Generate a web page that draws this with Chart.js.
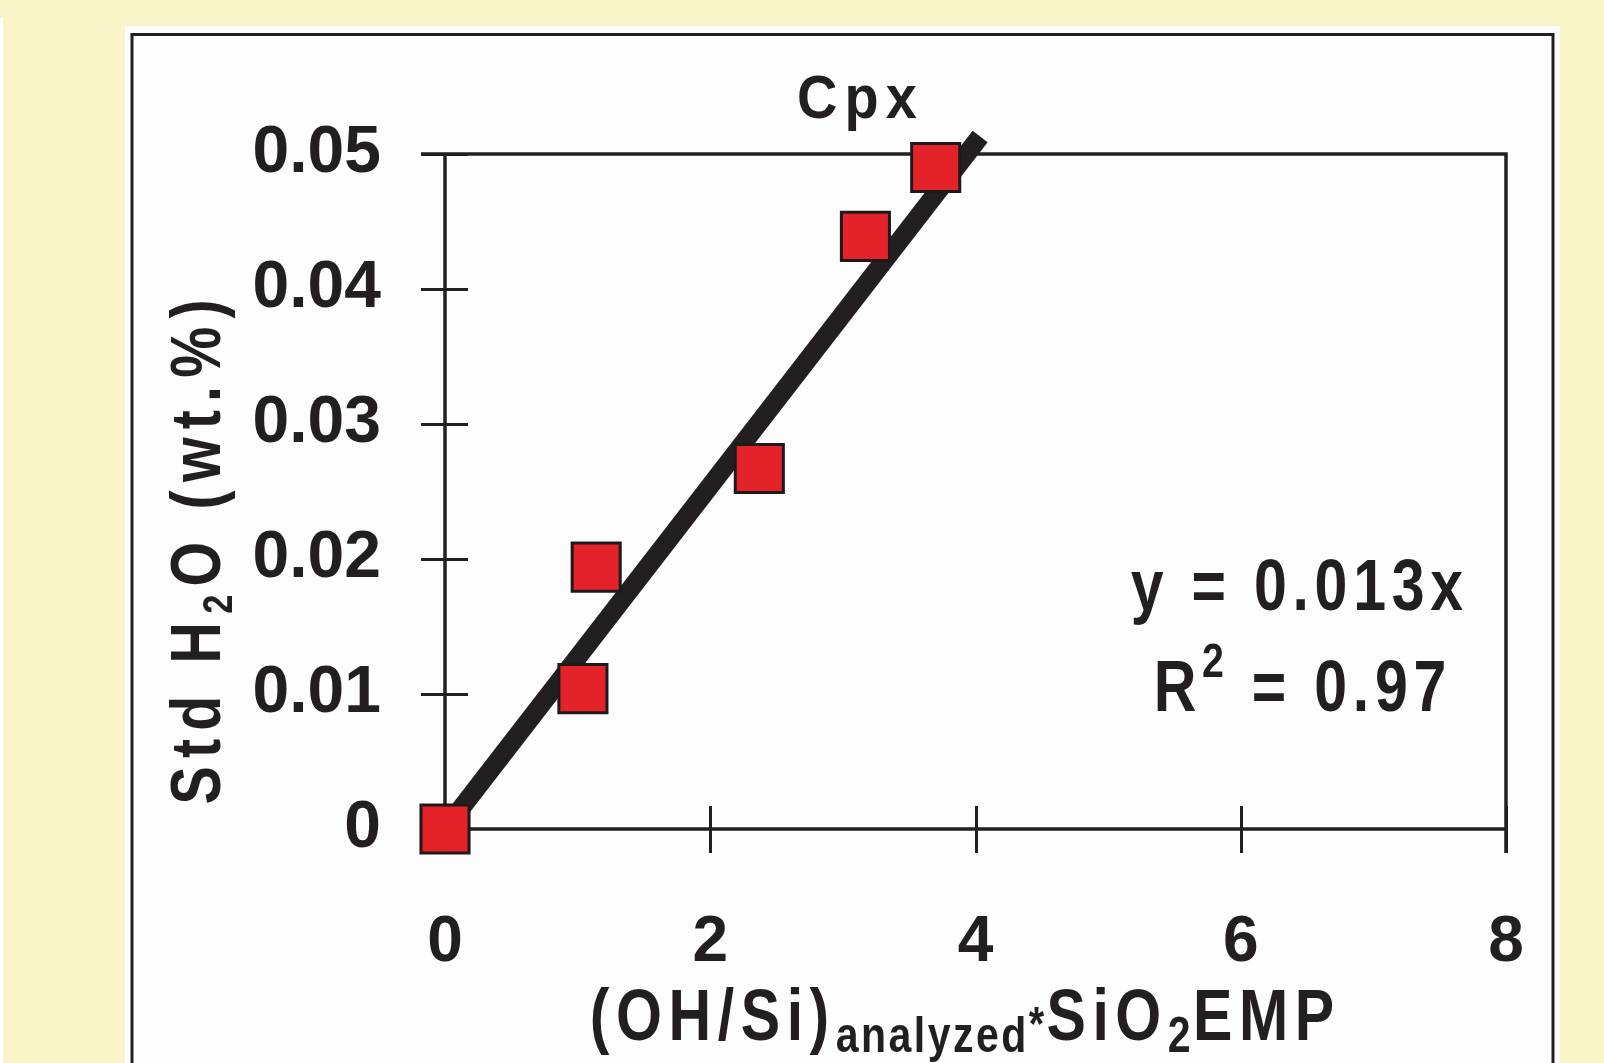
<!DOCTYPE html>
<html><head><meta charset="utf-8">
<script src="https://cdn.jsdelivr.net/npm/chart.js@4.4.1/dist/chart.umd.min.js"></script>
<style>html,body{margin:0;padding:0;background:#F9F3C8;overflow:hidden}#wrap{width:1604px;height:1063px;position:relative}</style>
</head><body><div id="wrap"><canvas id="c" width="1604" height="1063"></canvas></div>
<script>
// ---- data ----
const xValues = [0, 1.04, 1.14, 2.37, 3.17, 3.70];
const yValues = [0, 0.0104, 0.0194, 0.0267, 0.0439, 0.0490];
const trendX = [0, 4.035];
const trendY = [0, 0.0513];
const xTickLabels = ['0', '2', '4', '6', '8'];
const yTickLabels = ['0', '0.01', '0.02', '0.03', '0.04', '0.05'];
const chartTitle = 'Cpx';
const yTitleRuns = [['Std H', 'main'], ['2', 'sub'], ['O (wt.%)', 'main']];
const xTitleRuns = [['(OH/Si)', 'main'], ['analyzed', 'sub'], ['*', 'sup'], ['SiO', 'main'], ['2', 'sub'], ['EMP', 'main']];
const eqLine1 = [['y = 0.013x', 'main']];
const eqLine2 = [['R', 'main'], ['2', 'sup'], [' = 0.97', 'main']];

const INK = '#231f20';
const FAMILY = '"Liberation Sans", Arial, sans-serif';

function drawRuns(ctx, runs, cx, baseline, spec) {
  ctx.save();
  ctx.textBaseline = 'alphabetic';
  ctx.textAlign = 'left';
  let total = 0;
  const sp = k => (spec[k].sp !== undefined ? spec[k].sp : spec.spacing);
  const widths = runs.map(([t, k]) => {
    ctx.letterSpacing = sp(k) + 'px';
    ctx.font = 'bold ' + spec[k].size + 'px ' + FAMILY;
    const w = ctx.measureText(t).width;
    total += w;
    return w;
  });
  total -= sp(runs[runs.length - 1][1]);
  ctx.translate(cx, baseline);
  ctx.scale(spec.sx, 1);
  let x = -total / 2;
  runs.forEach(([t, k], i) => {
    ctx.letterSpacing = sp(k) + 'px';
    ctx.font = 'bold ' + spec[k].size + 'px ' + FAMILY;
    ctx.fillText(t, x, spec[k].dy);
    x += widths[i];
  });
  ctx.restore();
}

const decor = {
  id: 'decor',
  beforeDraw(chart) {
    const ctx = chart.ctx;
    ctx.save();
    ctx.fillStyle = '#F9F3C8';
    ctx.fillRect(0, 0, 1604, 1063);
    ctx.fillStyle = '#FFFFFF';
    ctx.fillRect(0, 18, 3, 1063);
    ctx.fillStyle = '#FDFDFD';
    ctx.fillRect(125, 26, 1435, 1040);
    ctx.strokeStyle = INK;
    ctx.lineWidth = 3;
    ctx.beginPath();
    ctx.moveTo(132, 1070); ctx.lineTo(132, 34.5); ctx.lineTo(1553, 34.5); ctx.lineTo(1553, 1070);
    ctx.stroke();
    ctx.restore();
  },
  beforeDatasetsDraw(chart) {
    const {ctx, chartArea: {left, right, top, bottom}, scales: {x, y}} = chart;
    ctx.save();
    ctx.strokeStyle = INK;
    ctx.lineCap = 'butt';
    ctx.lineWidth = 3;
    x.ticks.forEach(t => {
      const px = Math.round(x.getPixelForValue(t.value)) + 0.5;
      ctx.beginPath(); ctx.moveTo(px, bottom - 23); ctx.lineTo(px, bottom + 24); ctx.stroke();
    });
    y.ticks.forEach(t => {
      const py = Math.round(y.getPixelForValue(t.value)) + 0.5;
      ctx.beginPath(); ctx.moveTo(left - 24, py); ctx.lineTo(left + 23, py); ctx.stroke();
    });
    ctx.lineWidth = 3.5;
    ctx.beginPath();
    ctx.moveTo(left - 24, top); ctx.lineTo(right, top); ctx.lineTo(right, bottom + 24);
    ctx.stroke();
    ctx.beginPath();
    ctx.moveTo(left, top); ctx.lineTo(left, bottom); ctx.lineTo(right, bottom);
    ctx.stroke();
    ctx.restore();
  },
  afterDraw(chart) {
    const ctx = chart.ctx;
    ctx.save();
    ctx.fillStyle = INK;
    // title
    drawRuns(ctx, [[chartTitle, 'main']], 857, 118, {sx: 0.9, spacing: 8, main: {size: 62, dy: 0}});
    // equation
    const eqSpec = {sx: 0.82, spacing: 7, main: {size: 72, dy: 0}, sup: {size: 48, dy: -34}};
    drawRuns(ctx, eqLine1, 1297, 610, eqSpec);
    drawRuns(ctx, eqLine2, 1300, 711, eqSpec);
    // x title
    drawRuns(ctx, xTitleRuns, 962, 1040, {sx: 0.82, spacing: 8,
      main: {size: 72, dy: 0}, sub: {size: 50, dy: 12, sp: 3}, sup: {size: 48, dy: 0, sp: 3}});
    // y title
    ctx.translate(220, 552);
    ctx.rotate(-Math.PI / 2);
    drawRuns(ctx, yTitleRuns, 0, 0, {sx: 0.82, spacing: 10,
      main: {size: 70, dy: 0}, sub: {size: 42, dy: 12}});
    ctx.restore();
  }
};

new Chart(document.getElementById('c'), {
  data: {
    datasets: [
      {
        type: 'scatter',
        data: xValues.map((v, i) => ({x: v, y: yValues[i]})),
        pointStyle: 'rect',
        pointRadius: 34,
        pointHoverRadius: 34,
        backgroundColor: '#E42229',
        borderColor: '#1E1A1A',
        borderWidth: 3,
        clip: false,
        order: 0
      },
      {
        type: 'line',
        data: trendX.map((v, i) => ({x: v, y: trendY[i]})),
        borderColor: INK,
        borderWidth: 19,
        borderCapStyle: 'butt',
        pointRadius: 0,
        fill: false,
        clip: false,
        order: 1
      }
    ]
  },
  options: {
    responsive: false,
    animation: false,
    events: [],
    layout: {padding: {left: 0, top: 154, right: 98, bottom: 0}},
    plugins: {legend: {display: false}, tooltip: {enabled: false}, title: {display: false}},
    scales: {
      x: {
        type: 'linear', min: 0, max: 8,
        grid: {display: false, drawTicks: false},
        border: {display: false},
        ticks: {stepSize: 2, padding: 76, color: INK,
          font: {family: FAMILY, size: 64, weight: 'bold'},
          callback: (v, i) => xTickLabels[i]},
        afterFit: s => { s.height = 234; }
      },
      y: {
        type: 'linear', min: 0, max: 0.05,
        grid: {display: false, drawTicks: false},
        border: {display: false},
        ticks: {stepSize: 0.01, padding: 64, color: INK,
          font: {family: FAMILY, size: 66, weight: 'bold'},
          callback: (v, i) => yTickLabels[i]},
        afterFit: s => { s.width = 445; }
      }
    }
  },
  plugins: [decor]
});
</script></body></html>
